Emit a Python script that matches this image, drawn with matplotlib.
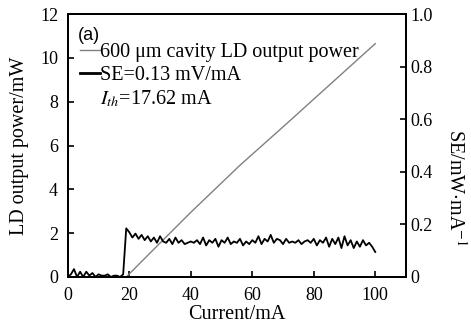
import matplotlib.pyplot as plt
import numpy as np
from matplotlib.lines import Line2D

plt.rcParams['font.family'] = ['Liberation Serif', 'DejaVu Serif']
plt.rcParams['mathtext.fontset'] = 'stix'

# LD output power (mW) vs current (mA)
power_current = [0, 19, 30, 40, 56, 70, 85, 100]
power_mw = [0, 0, 1.55, 2.95, 5.1, 6.85, 8.75, 10.65]

# slope efficiency (mW/mA), 1 mA steps from 0 to 100
se_current = np.arange(0, 101)
se_values = [0.0, 0.01, 0.03, 0.0, 0.02, 0.0, 0.02, 0.005, 0.015, 0.0,
             0.01, 0.005, 0.005, 0.01, 0.0, 0.005, 0.005, 0.0, 0.01, 0.185,
             0.17, 0.15, 0.165, 0.145, 0.16, 0.14, 0.155, 0.135, 0.15, 0.13,
             0.155, 0.135, 0.13, 0.145, 0.125, 0.15, 0.13, 0.14, 0.125, 0.13,
             0.135, 0.13, 0.14, 0.125, 0.15, 0.12, 0.14, 0.13, 0.145, 0.115,
             0.14, 0.13, 0.15, 0.125, 0.135, 0.13, 0.145, 0.12, 0.135, 0.125,
             0.14, 0.13, 0.155, 0.125, 0.145, 0.135, 0.16, 0.13, 0.145, 0.14,
             0.125, 0.145, 0.13, 0.135, 0.13, 0.14, 0.125, 0.135, 0.14, 0.13,
             0.145, 0.12, 0.14, 0.13, 0.15, 0.115, 0.145, 0.125, 0.15, 0.11,
             0.155, 0.12, 0.14, 0.11, 0.135, 0.115, 0.14, 0.12, 0.13, 0.115,
             0.095]

fs_tick = 13
fs = 14.5
fig = plt.figure(figsize=(4.71, 3.27), dpi=100)
ax = fig.add_axes([0.144, 0.153, 0.718, 0.804])
ax2 = ax.twinx()

ax.plot(power_current, power_mw, color='#808080', lw=1.0)
ax2.plot(se_current, se_values, color='black', lw=1.3)

ax.set_xlim(0, 110)
ax.set_ylim(0, 12)
ax2.set_ylim(0, 1.0)
ax.set_xticks([0, 20, 40, 60, 80, 100])
ax.set_yticks([0, 2, 4, 6, 8, 10, 12])
ax2.set_yticks([0, 0.2, 0.4, 0.6, 0.8, 1.0])
ax2.set_yticklabels(['0', '0.2', '0.4', '0.6', '0.8', '1.0'])

for a in (ax, ax2):
    a.tick_params(direction='in', length=4, width=1.2, labelsize=fs_tick)
    for s in a.spines.values():
        s.set_linewidth(1.4)
ax.tick_params(top=False, right=False)
ax.tick_params(axis='x', pad=7)
ax.tick_params(axis='y', pad=7)

ax.set_xlabel('Current/mA', fontsize=fs)
ax.xaxis.set_label_coords(0.5, -0.108)
ax.set_ylabel('LD output power/mW', fontsize=fs)
ax.yaxis.set_label_coords(-0.115, 0.5)
ax2.set_ylabel('SE/mW$\\cdot$mA$^{-1}$', fontsize=fs, rotation=270,
               va='center')
ax2.yaxis.set_label_coords(1.145, 0.34)

handles = [Line2D([], [], color='#808080', lw=1.0),
           Line2D([], [], color='black', lw=2.0),
           Line2D([], [], color='none')]
labels = ['600 \u03bcm cavity LD output power', 'SE=0.13 mV/mA',
          '$I_{th}$=17.62 mA']
ax.legend(handles, labels, loc='upper left', bbox_to_anchor=(-0.005, 0.945),
          frameon=False, fontsize=fs, handlelength=1.0, handletextpad=0.0,
          labelspacing=0.2, borderaxespad=0.3)

ax.text(0.03, 0.95, '(a)', transform=ax.transAxes, fontsize=fs_tick,
        family='Liberation Sans', va='top', ha='left')

fig.savefig('out.png', dpi=100)
